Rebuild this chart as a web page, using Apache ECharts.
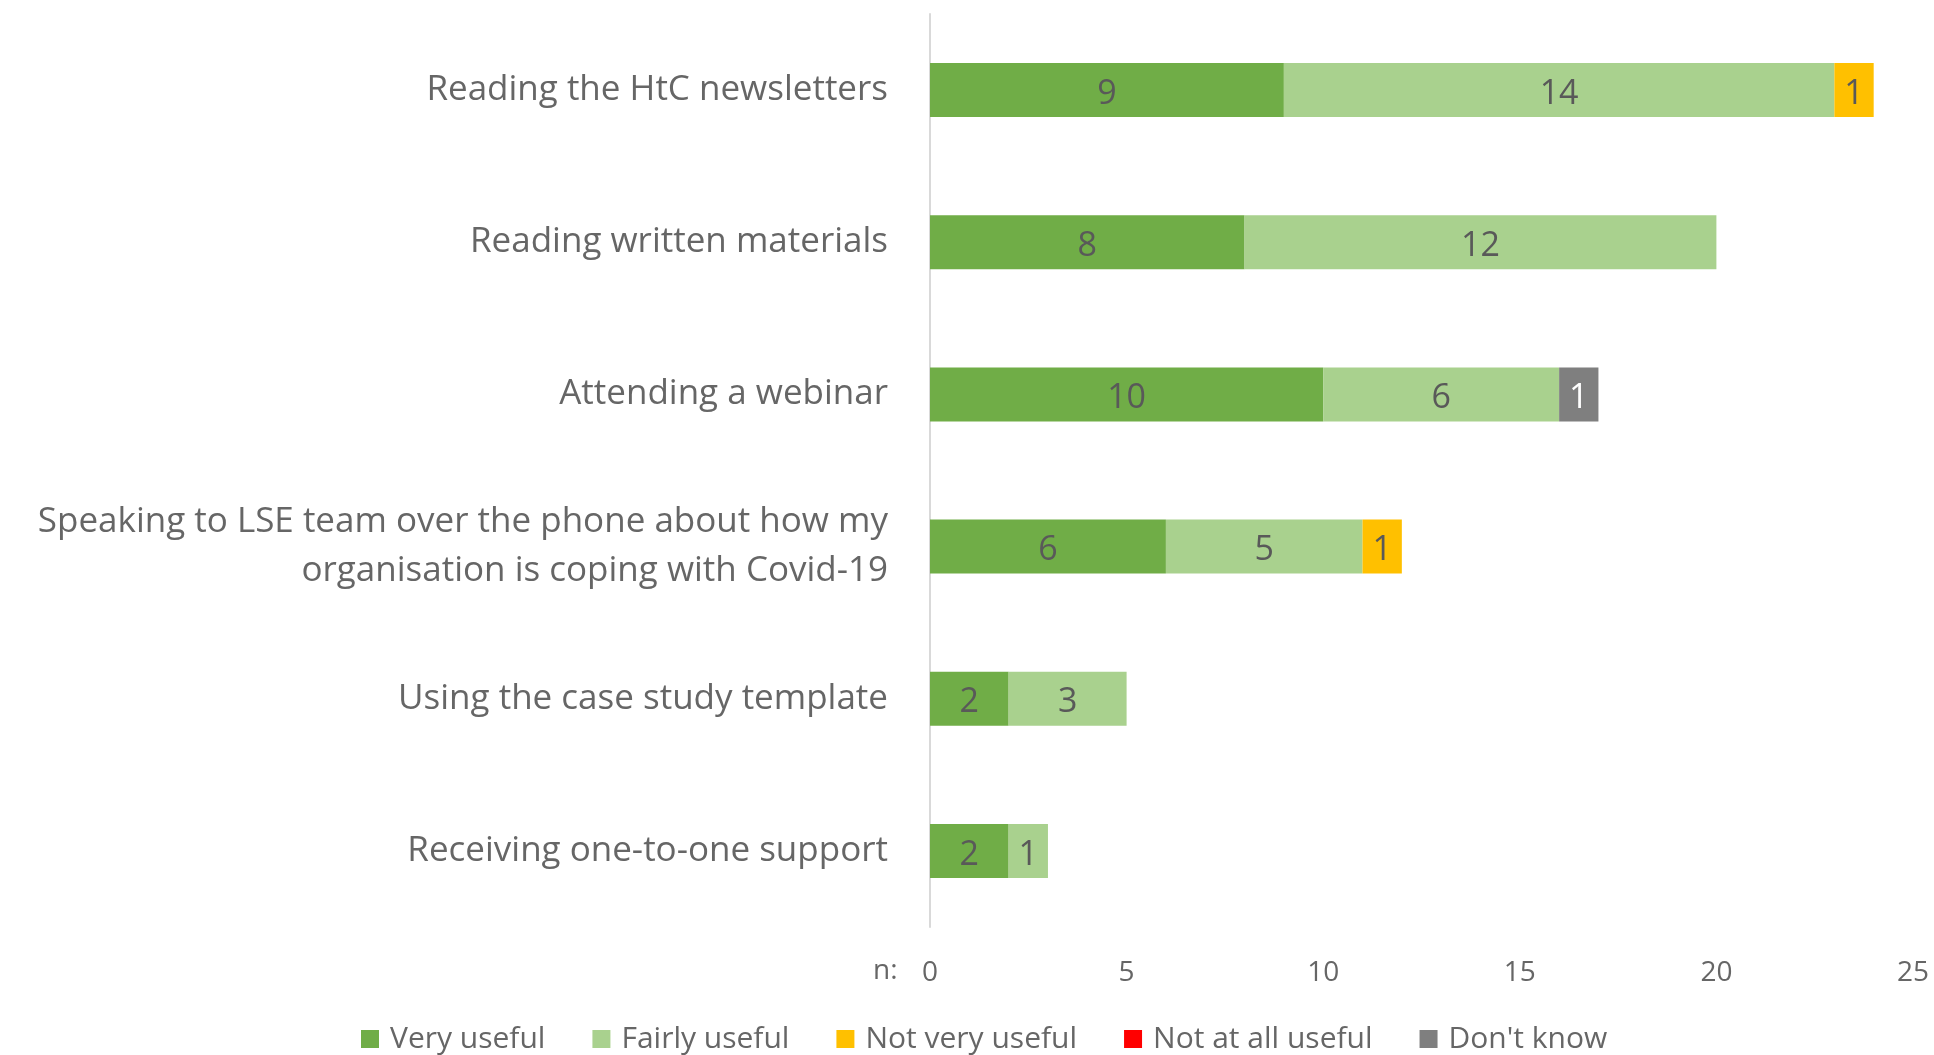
<!DOCTYPE html>
<html>
<head>
<meta charset="utf-8">
<title>Usefulness of support</title>
<script src="https://cdn.jsdelivr.net/npm/echarts@6/dist/echarts.min.js"></script>
<style>
  html, body { margin: 0; padding: 0; background: #fff; }
  #chart { width: 1934px; height: 1055px; }
</style>
</head>
<body>
<div id="chart"></div>
<script>
// categories, top to bottom
const categories = [
  'Reading the HtC newsletters',
  'Reading written materials',
  'Attending a webinar',
  'Speaking to LSE team over the phone about how my\norganisation is coping with Covid-19',
  'Using the case study template',
  'Receiving one-to-one support'
]

const veryUseful = [9, 8, 10, 6, 2, 2]
const fairlyUseful = [14, 12, 6, 5, 3, 1]
const notVeryUseful = [1, 0, 0, 1, 0, 0]
const notAtAllUseful = [0, 0, 0, 0, 0, 0]
const dontKnow = [0, 0, 1, 0, 0, 0]

const xTicks = [0, 5, 10, 15, 20, 25]

const FONT = '"Open Sans", "Noto Sans", sans-serif'
const TEXT = '#666666'

function makeSeries(name, data, color, labelColor) {
  return {
    name: name,
    type: 'bar',
    stack: 'total',
    data: data,
    barWidth: 54,
    itemStyle: {color: color},
    label: {
      show: true,
      position: 'inside',
      offset: [0, 4],
      color: labelColor || '#595959',
      fontFamily: FONT,
      fontSize: 34,
      formatter: p => (p.value ? String(p.value) : '')
    },
    emphasis: {disabled: true}
  }
}

const chart = echarts.init(document.getElementById('chart'))
chart.setOption({
  animation: false,
  textStyle: {fontFamily: FONT},
  grid: {
    left: 930,
    right: 21,
    top: 14,
    bottom: 128,
    outerBoundsMode: 'none'
  },
  legend: {
    bottom: -4,
    left: 356,
    itemWidth: 18,
    itemHeight: 18,
    itemGap: 47,
    icon: 'rect',
    textStyle: {color: TEXT, fontSize: 30, fontFamily: FONT, padding: [0, 0, 0, 6]},
    data: ['Very useful', 'Fairly useful', 'Not very useful', 'Not at all useful', "Don't know"]
  },
  xAxis: {
    type: 'value',
    min: 0,
    max: 25,
    interval: 5,
    axisLine: {show: false},
    axisTick: {show: false},
    splitLine: {show: false},
    axisLabel: {
      margin: 32,
      color: TEXT,
      fontSize: 28,
      fontFamily: FONT,
      formatter: v => (xTicks.includes(v) ? String(v) : '')
    }
  },
  yAxis: {
    type: 'category',
    inverse: true,
    data: categories,
    axisLine: {show: true, lineStyle: {color: '#d9d9d9', width: 2}},
    axisTick: {show: false},
    axisLabel: {
      margin: 42,
      color: TEXT,
      fontSize: 35,
      lineHeight: 49,
      fontFamily: FONT,
      align: 'right'
    }
  },
  graphic: [{
    type: 'text',
    left: 873,
    top: 957,
    style: {text: 'n:', fill: TEXT, fontSize: 28, fontFamily: FONT}
  }],
  series: [
    makeSeries('Very useful', veryUseful, '#70AD47'),
    makeSeries('Fairly useful', fairlyUseful, '#A9D18E'),
    makeSeries('Not very useful', notVeryUseful, '#FFC000'),
    makeSeries('Not at all useful', notAtAllUseful, '#FF0000'),
    makeSeries("Don't know", dontKnow, '#7F7F7F', '#ffffff')
  ]
})
window.addEventListener('resize', () => chart.resize())
</script>
</body>
</html>
